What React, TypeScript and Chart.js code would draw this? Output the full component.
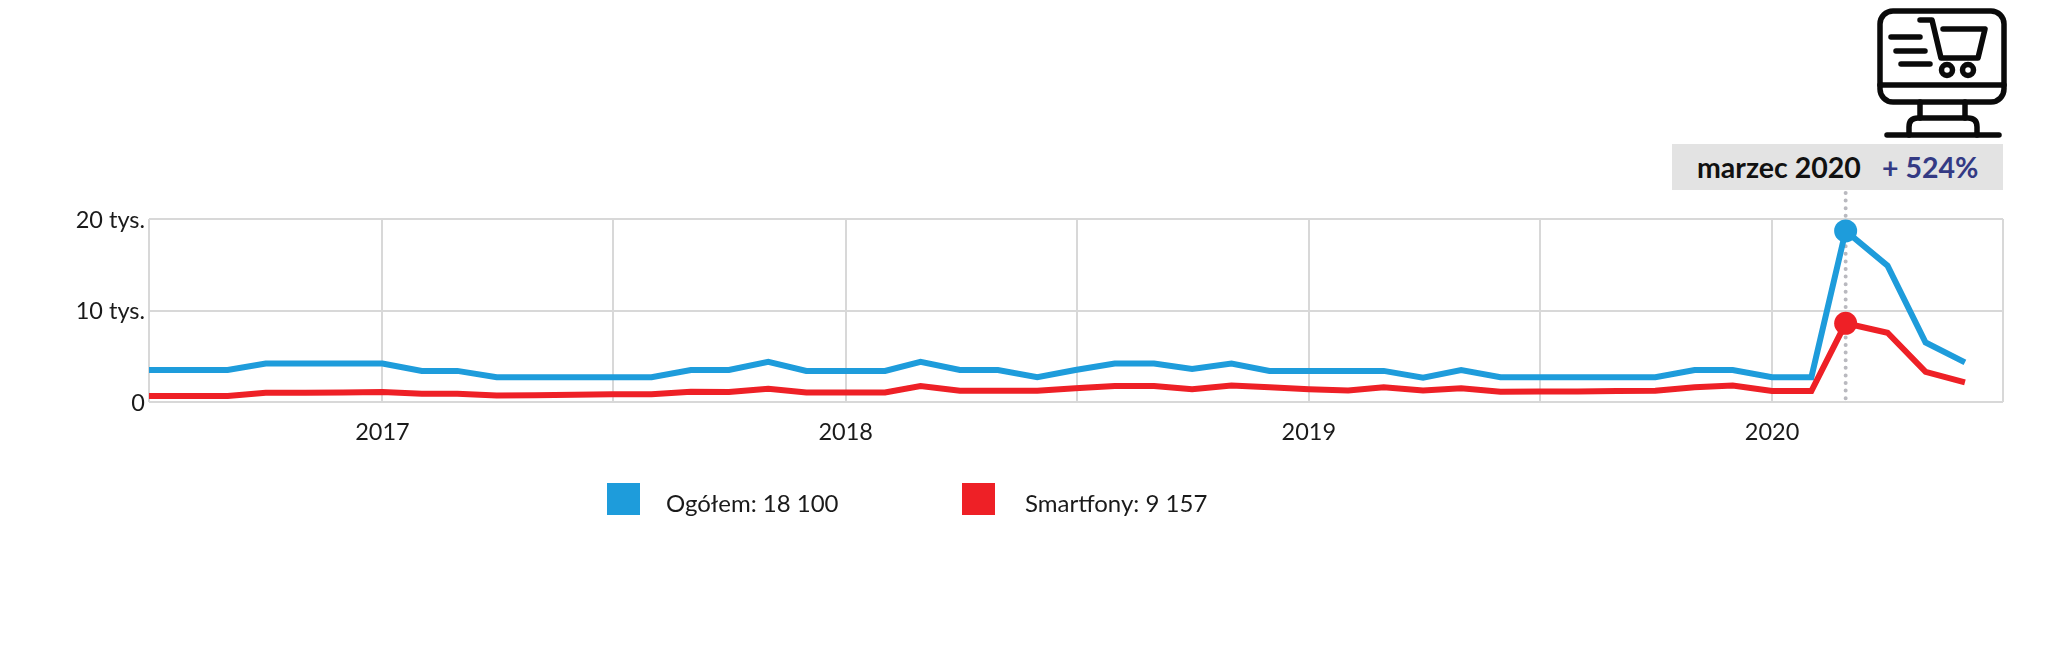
import React, { useEffect, useRef } from 'react';
import { Chart, registerables } from 'chart.js';

Chart.register(...registerables);

// the March 2020 point sits a little left of the 1st in the original
const months = [
  '2016-07', '2016-08', '2016-09', '2016-10', '2016-11', '2016-12',
  '2017-01', '2017-02', '2017-03', '2017-04', '2017-05', '2017-06',
  '2017-07', '2017-08', '2017-09', '2017-10', '2017-11', '2017-12',
  '2018-01', '2018-02', '2018-03', '2018-04', '2018-05', '2018-06',
  '2018-07', '2018-08', '2018-09', '2018-10', '2018-11', '2018-12',
  '2019-01', '2019-02', '2019-03', '2019-04', '2019-05', '2019-06',
  '2019-07', '2019-08', '2019-09', '2019-10', '2019-11', '2019-12',
  '2020-01', '2020-02', '2020-02-28', '2020-04', '2020-05', '2020-06',
];

const total = [
  3500, 3500, 3500, 4200, 4200, 4200,
  4200, 3400, 3400, 2700, 2700, 2700,
  2700, 2700, 3500, 3500, 4400, 3400,
  3400, 3400, 4400, 3500, 3500, 2700,
  3500, 4200, 4200, 3600, 4200, 3400,
  3400, 3400, 3400, 2650, 3500, 2700,
  2700, 2700, 2700, 2700, 3500, 3500,
  2700, 2700, 18700, 14900, 6500, 4330,
];

const smartphones = [
  650, 650, 650, 1000, 1000, 1050,
  1090, 900, 900, 700, 750, 800,
  850, 850, 1130, 1100, 1450, 1050,
  1050, 1050, 1750, 1240, 1240, 1240,
  1500, 1750, 1750, 1400, 1800, 1600,
  1400, 1270, 1600, 1270, 1500, 1120,
  1150, 1150, 1200, 1240, 1600, 1800,
  1200, 1200, 8600, 7570, 3300, 2150,
];

// grid lines are evenly spaced, so the mid-year ones fall on 2 July
const tickMonths = ['2016-07', '2017-01', '2017-07-02', '2018-01', '2018-07-02', '2019-01', '2019-07-02', '2020-01', '2020-07'];
const tickLabels = ['', '2017', '', '2018', '', '2019', '', '2020', ''];
const highlightMonth = '2020-02-28';

const BLUE = '#1e9cdb';
const RED = '#ee2026';
const FONT = 'Lato';

const toTime = (m: string) => {
  const [y, mo, d] = m.split('-').map(Number);
  return Date.UTC(y, mo - 1, d || 1);
};

const tickTimes = tickMonths.map(toTime);
const highlightIndex = months.indexOf(highlightMonth);

const highlightLine = {
  id: 'highlightLine',
  beforeDatasetsDraw(chart: Chart) {
    const x = chart.scales.x.getPixelForValue(toTime(highlightMonth));
    const { ctx, chartArea } = chart;
    ctx.save();
    ctx.beginPath();
    ctx.setLineDash([0, 7.6]);
    ctx.lineCap = 'round';
    ctx.lineWidth = 4;
    ctx.strokeStyle = '#b9b9bf';
    ctx.moveTo(x, 193);
    ctx.lineTo(x, chartArea.bottom);
    ctx.stroke();
    ctx.restore();
  },
};

const series = (values: number[], color: string, order: number) => ({
  data: values.map((v, i) => ({ x: toTime(months[i]), y: v })),
  borderColor: color,
  backgroundColor: color,
  borderWidth: 6,
  tension: 0,
  order,
  pointRadius: values.map((_, i) => (i === highlightIndex ? 11.5 : 0)),
  pointBorderWidth: 0,
  pointBackgroundColor: color,
});

const CartIcon: React.FC = () => (
  <svg
    width={2048}
    height={150}
    style={{ position: 'absolute', left: 0, top: 0 }}
    fill="none"
    stroke="#0a0a0a"
    strokeWidth={5.5}
    strokeLinecap="round"
    strokeLinejoin="round"
  >
    <rect x={1880} y={11} width={124} height={91} rx={13} />
    <path d="M1880 85H2004" />
    <path d="M1920 102V118M1965 102V118" />
    <path d="M1909 135V127Q1909 118 1918 118H1968Q1977 118 1977 127V135" />
    <path d="M1887 135H1999" />
    <path d="M1891 37H1920M1896 51H1925M1901 64H1930" />
    <path d="M1920 20H1932L1941 58H1978L1985 29H1943" />
    <circle cx={1947} cy={70} r={5.5} />
    <circle cx={1968} cy={70} r={5.5} />
  </svg>
);

const App: React.FC = () => {
  const canvasRef = useRef<HTMLCanvasElement>(null);

  useEffect(() => {
    if (!canvasRef.current) return;
    const chart = new Chart(canvasRef.current, {
      type: 'line',
      data: {
        datasets: [series(total, BLUE, 2), series(smartphones, RED, 1)],
      },
      options: {
        animation: false,
        responsive: false,
        layout: { padding: { top: 219, right: 45, bottom: 0, left: 0 } },
        plugins: { legend: { display: false }, tooltip: { enabled: false } },
        scales: {
          x: {
            type: 'linear',
            min: tickTimes[0],
            max: tickTimes[tickTimes.length - 1],
            afterBuildTicks: (axis: any) => {
              axis.ticks = tickTimes.map(value => ({ value }));
            },
            afterFit: (axis: any) => {
              axis.height = 245;
            },
            grid: { color: '#d8d8d8', lineWidth: 2, drawTicks: false },
            border: { display: false },
            ticks: {
              autoSkip: false,
              maxRotation: 0,
              padding: 16,
              color: '#1a1a1a',
              font: { family: FONT, size: 23.5 },
              callback: (value: any) => tickLabels[tickTimes.indexOf(Number(value))] ?? '',
            },
          },
          y: {
            min: 0,
            max: 20000,
            afterFit: (axis: any) => {
              axis.width = 149;
            },
            grid: { color: '#d8d8d8', lineWidth: 2, drawTicks: false },
            border: { display: false },
            ticks: {
              stepSize: 10000,
              padding: 4,
              labelOffset: 1,
              color: '#1a1a1a',
              font: { family: FONT, size: 23.5 },
              callback: (value: any) => (value === 0 ? '0' : `${Number(value) / 1000} tys.`),
            },
          },
        },
      },
      plugins: [highlightLine],
    } as any);
    return () => chart.destroy();
  }, []);

  const text: React.CSSProperties = { position: 'absolute', fontFamily: FONT, whiteSpace: 'nowrap', color: '#1a1a1a' };

  return (
    <div style={{ position: 'absolute', left: 0, top: 0, width: 2048, height: 647, overflow: 'hidden', background: '#fff' }}>
      <canvas ref={canvasRef} width={2048} height={647} style={{ display: 'block' }} />
      <CartIcon />
      <div style={{ position: 'absolute', left: 1672, top: 144, width: 331, height: 46, background: '#e3e3e3' }} />
      <div style={{ ...text, left: 1697, top: 151, fontSize: 28.5, lineHeight: '32px', fontWeight: 700, color: '#111' }}>marzec 2020</div>
      <div style={{ ...text, left: 1882, top: 151, fontSize: 28.5, lineHeight: '32px', fontWeight: 700, color: '#343a84' }}>+ 524%</div>
      <div style={{ position: 'absolute', left: 607, top: 483, width: 33, height: 32, background: BLUE }} />
      <div style={{ ...text, left: 666, top: 488, fontSize: 24, lineHeight: '30px' }}>Ogółem: 18 100</div>
      <div style={{ position: 'absolute', left: 962, top: 483, width: 33, height: 32, background: RED }} />
      <div style={{ ...text, left: 1025, top: 488, fontSize: 24, lineHeight: '30px' }}>Smartfony: 9 157</div>
    </div>
  );
};

export default App;
